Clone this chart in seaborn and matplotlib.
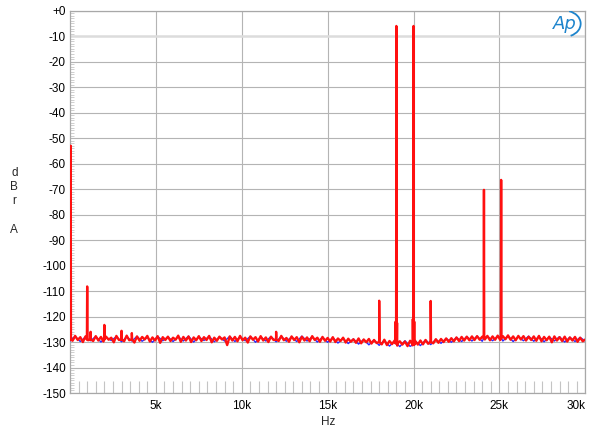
import numpy as np
import pandas as pd
import matplotlib
matplotlib.use("Agg")
import matplotlib.pyplot as plt
from matplotlib.ticker import MultipleLocator, FixedLocator, FixedFormatter
from matplotlib.patches import Arc
import seaborn as sns

# ---------------- data ----------------
# red channel noise floor, sampled every 150 Hz from 0 to 30 kHz
red_floor_db = [
    -128.0, -129.5, -127.6, -129.2, -128.1, -130.0, -127.8, -129.3, -128.2, -129.6,
    -127.7, -129.4, -128.0, -129.8, -127.9, -129.1, -128.3, -130.1, -127.6, -129.2,
    -128.1, -129.7, -127.5, -129.3, -128.4, -130.2, -127.8, -129.5, -128.0, -129.0,
    -127.6, -129.8, -128.2, -129.4, -127.7, -130.3, -128.1, -129.2, -127.9, -129.6,
    -128.3, -129.1, -127.5, -129.9, -128.0, -129.4, -127.8, -130.0, -128.2, -129.3,
    -127.7, -129.6, -128.1, -129.2, -127.6, -130.1, -128.3, -129.5, -127.9, -129.0,
    -128.2, -131.2, -127.8, -129.4, -128.0, -129.7, -127.6, -129.3, -128.3, -130.2,
    -127.8, -129.1, -128.1, -129.8, -127.7, -129.4, -128.2, -130.0, -127.9, -129.2,
    -128.0, -129.6, -127.6, -129.3, -128.4, -129.9, -127.8, -129.2, -128.1, -130.1,
    -127.9, -129.4, -128.2, -129.7, -127.7, -129.2, -128.3, -129.9, -128.0, -129.5,
    -128.4, -129.8, -128.1, -130.0, -128.6, -129.6, -128.3, -130.2, -128.7, -129.9,
    -128.9, -130.3, -128.6, -130.5, -129.0, -130.1, -128.8, -130.6, -129.2, -130.4,
    -129.3, -130.9, -129.1, -131.2, -129.6, -130.8, -129.4, -131.4, -129.7, -131.0,
    -129.8, -131.6, -129.5, -131.3, -129.6, -131.0, -129.4, -130.9, -129.2, -130.7,
    -129.1, -130.5, -128.9, -130.3, -128.8, -130.0, -128.6, -129.9, -128.5, -129.7,
    -128.2, -129.6, -128.0, -129.4, -127.9, -129.3, -127.8, -129.2, -127.7, -129.1,
    -127.9, -129.0, -127.6, -129.3, -127.8, -129.1, -127.5, -129.2, -127.7, -128.9,
    -127.4, -129.1, -127.8, -129.3, -127.6, -129.0, -127.7, -129.4, -127.9, -129.2,
    -127.8, -129.5, -127.6, -129.7, -128.0, -129.3, -127.9, -130.1, -127.8, -129.4,
    -128.1, -129.6, -127.9, -129.8, -128.2, -129.4, -128.0, -129.9, -128.3, -129.7,
    -129.0,
]
red_floor_hz = np.linspace(0, 30000, len(red_floor_db))

# blue channel noise floor, sampled every 300 Hz
blue_floor_db = [
    -129.6, -127.8, -129.8, -128.0, -129.5, -127.8, -130.0, -128.1, -129.4, -127.9,
    -129.9, -128.0, -129.6, -127.8, -129.7, -128.2, -130.1, -127.8, -129.5, -128.0,
    -129.8, -127.9, -129.6, -127.7, -130.0, -128.0, -129.4, -127.8, -129.9, -128.0,
    -129.6, -127.8, -129.8, -128.0, -129.5, -127.8, -130.1, -128.0, -129.6, -127.9,
    -129.9, -127.8, -129.7, -128.0, -129.8, -127.7, -129.6, -128.0, -130.0, -128.1,
    -130.1, -128.3, -130.4, -128.6, -130.6, -128.8, -130.8, -129.0, -131.1, -129.2,
    -131.3, -129.4, -131.6, -129.6, -131.8, -129.5, -131.7, -129.6, -131.4, -129.2,
    -131.0, -129.0, -130.5, -128.6, -130.1, -128.2, -129.8, -127.9, -129.6, -127.7,
    -129.7, -127.7, -129.5, -127.8, -129.6, -127.7, -129.8, -127.9, -129.5, -127.7,
    -129.7, -127.8, -129.9, -128.0, -129.6, -127.9, -130.0, -128.1, -129.8, -128.2,
    -129.6,
]
blue_floor_hz = np.linspace(0, 30000, len(blue_floor_db))

# spectral spikes (red)
red_spike_hz = [40, 1000, 1200, 2000, 3000, 3600, 12000, 18000,
                18960, 19000, 19040, 19960, 20000, 20040, 21000, 24100, 25100]
red_spike_db = [-53.0, -108.2, -126.0, -123.3, -125.6, -126.5, -126.0, -113.8,
                -122.0, -6.0, -122.5, -121.0, -6.0, -122.0, -113.9, -70.3, -66.4]
red_spike_base = [-129.0, -129.0, -129.0, -129.0, -129.0, -129.0, -129.0, -130.0,
                  -130.5, -130.5, -130.5, -131.0, -131.0, -131.0, -130.0, -128.5, -128.5]

# spectral spikes (blue, mostly hidden)
blue_spike_hz = [40, 1000, 19000, 20000, 24100, 25100]
blue_spike_db = [-54.0, -109.0, -6.5, -6.5, -71.0, -67.0]
blue_spike_base = [-129.0, -129.0, -130.5, -131.0, -128.5, -128.5]

y_ticks = [0, -10, -20, -30, -40, -50, -60, -70, -80, -90, -100,
           -110, -120, -130, -140, -150]
y_labels = ["+0", "-10", "-20", "-30", "-40", "-50", "-60", "-70", "-80",
            "-90", "-100", "-110", "-120", "-130", "-140", "-150"]
x_ticks = [5000, 10000, 15000, 20000, 25000, 30000]
x_labels = ["5k", "10k", "15k", "20k", "25k", "30k"]


def build(floor_hz, floor_db, sp_hz, sp_db, sp_base, half=15):
    f = list(floor_hz)
    d = list(floor_db)
    for sf, sd, sb in zip(sp_hz, sp_db, sp_base):
        f += [sf - half, sf, sf + half]
        d += [sb, sd, sb]
    order = np.argsort(f, kind="stable")
    return np.asarray(f)[order], np.asarray(d)[order]


bf, bd = build(blue_floor_hz, blue_floor_db, blue_spike_hz, blue_spike_db, blue_spike_base)
rf, rd = build(red_floor_hz, red_floor_db, red_spike_hz, red_spike_db, red_spike_base)
df_blue = pd.DataFrame({"Hz": bf, "dB": bd})
df_red = pd.DataFrame({"Hz": rf, "dB": rd})

# ---------------- plotting ----------------
sns.set_style("white")
plt.rcParams["font.family"] = ["Liberation Sans", "DejaVu Sans"]

fig = plt.figure(figsize=(6.0, 4.37), dpi=100)
ax = fig.add_axes([70 / 600, 1 - 393 / 437, (585.3 - 70) / 600, (393 - 10.7) / 437])

sns.lineplot(data=df_blue, x="Hz", y="dB", ax=ax, sort=False, estimator=None,
             color="#2a2aff", linewidth=1.0, zorder=3)
sns.lineplot(data=df_red, x="Hz", y="dB", ax=ax, sort=False, estimator=None,
             color="#ff1010", linewidth=1.7, zorder=4)

ax.set_xlim(0, 30000)
ax.set_ylim(-150, 0)

ax.yaxis.set_major_locator(FixedLocator(y_ticks))
ax.yaxis.set_major_formatter(FixedFormatter(y_labels))
ax.xaxis.set_major_locator(FixedLocator(x_ticks))
ax.xaxis.set_major_formatter(FixedFormatter(x_labels))
ax.xaxis.set_minor_locator(MultipleLocator(500))
ax.yaxis.set_minor_locator(MultipleLocator(1))

ax.tick_params(axis="both", which="major", length=0, labelsize=8.5, colors="black")
ax.tick_params(axis="y", which="major", pad=3)
ax.tick_params(axis="x", which="major", pad=5)
ax.tick_params(axis="x", which="minor", direction="in", length=9, width=0.8,
               color="#c4c4c4", bottom=True, top=False)
ax.tick_params(axis="y", which="minor", direction="in", length=2.6, width=0.6,
               color="#c8c8c8", left=True, right=False)

ax.grid(True, which="major", color="#b4b4b4", linewidth=0.8)
ax.set_axisbelow(True)
for i, gl in enumerate(ax.yaxis.get_gridlines()):
    if y_ticks[i] == -10:
        gl.set_color("#dcdcdc")
        gl.set_linewidth(1.8)

lbls = ax.get_xticklabels()
lbls[-1].set_horizontalalignment("right")

for s in ax.spines.values():
    s.set_color("#a8a8a8")
    s.set_linewidth(0.9)

ax.set_xlabel("")
ax.set_ylabel("")
fig.text(0.547, 0.034, "Hz", ha="center", va="center", fontsize=8.5)
fig.text(0.024, 0.539, "d\nB\nr\n\nA", ha="center", va="center", fontsize=8.5,
         linespacing=1.27)

# Ap logo
ax.text(0.960, 0.966, "Ap", transform=ax.transAxes, ha="center", va="center",
        fontsize=13, style="italic", color="#1d84cc", family="DejaVu Sans",
        zorder=6)
ax.add_patch(Arc((0.960, 0.966), 0.062, 0.068, theta1=-70, theta2=75,
                 transform=ax.transAxes, color="#1d84cc", linewidth=1.3, zorder=6))

fig.savefig("out.png", dpi=100)
